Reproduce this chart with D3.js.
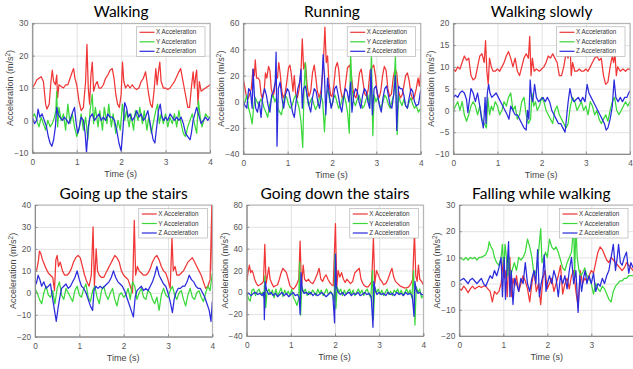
<!DOCTYPE html>
<html>
<head>
<meta charset="utf-8">
<script src="https://cdn.jsdelivr.net/npm/d3@7"></script>
<style>
  body { margin: 0; background: #fff; }
  svg { display: block; font-family: "Liberation Sans", Arial, sans-serif; }
</style>
</head>
<body>
<div id="chart"></div>
<script>
// ---- data: [time (s), acceleration (m/s^2)] ----
const seriesNames = ["X Acceleration", "Y Acceleration", "Z Acceleration"];
const seriesColors = ["#f03636", "#3ad83a", "#2b2bdd"];

const walkingX = [[0,10],[0.05,11],[0.1,12.5],[0.15,13],[0.2,13.5],[0.25,12],[0.3,5],[0.33,3.5],[0.38,5],[0.42,12],[0.45,15.5],[0.48,12],[0.52,11],[0.55,14],[0.57,7],[0.6,11],[0.65,10.5],[0.7,10],[0.75,11],[0.8,11],[0.85,13],[0.9,15],[0.93,16],[0.96,13],[1.0,11],[1.05,6],[1.1,3],[1.15,4],[1.2,12],[1.23,23.5],[1.26,10],[1.29,5],[1.32,14],[1.35,18],[1.38,9],[1.42,11],[1.46,12],[1.5,10],[1.55,10],[1.6,11],[1.65,13],[1.7,14],[1.75,15.5],[1.8,16],[1.84,13],[1.88,8],[1.92,5],[1.96,4],[2.0,8],[2.03,18],[2.06,12],[2.1,10],[2.15,11],[2.2,10],[2.25,11],[2.3,10],[2.35,9.5],[2.4,10],[2.45,12],[2.5,13],[2.55,15],[2.58,12],[2.62,8],[2.66,5],[2.7,4],[2.74,9],[2.78,16],[2.81,11],[2.84,15],[2.87,18],[2.9,12],[2.95,10],[3.0,10],[3.05,9.5],[3.1,10],[3.15,11],[3.2,12],[3.25,13.5],[3.3,15],[3.34,16],[3.38,13],[3.42,10],[3.46,7],[3.5,4],[3.54,4],[3.58,10],[3.62,15],[3.65,10],[3.68,14],[3.7,15.5],[3.73,5],[3.76,12],[3.8,9],[3.85,9.5],[3.9,10],[3.95,10.5],[4.0,11]];
const walkingY = [[0,1],[0.05,2],[0.1,0],[0.15,-2],[0.2,1],[0.25,-1],[0.3,-3],[0.35,0],[0.4,-2],[0.45,-1],[0.5,1],[0.53,3],[0.55,9],[0.57,-2],[0.6,4],[0.65,0],[0.7,2],[0.75,-3],[0.8,5],[0.85,-1],[0.9,2],[0.95,-2],[1.0,-5],[1.05,-3],[1.1,2],[1.15,-3],[1.2,1],[1.25,-6],[1.3,3],[1.35,8],[1.38,-1],[1.42,4],[1.48,-2],[1.52,3],[1.58,-3],[1.62,4],[1.68,-1],[1.72,5],[1.78,-2],[1.82,2],[1.88,-4],[1.93,0],[1.98,-3],[2.03,5],[2.08,0],[2.12,3],[2.18,-2],[2.22,2],[2.28,-3],[2.32,3],[2.38,0],[2.42,4],[2.48,-1],[2.52,3],[2.58,-3],[2.62,1],[2.68,-4],[2.72,-1],[2.78,3],[2.82,5],[2.86,-1],[2.9,2],[2.95,-1],[3.0,2],[3.05,-2],[3.1,1],[3.15,-1],[3.2,2],[3.25,-2],[3.3,3],[3.35,-1],[3.4,-4],[3.45,-5],[3.5,-2],[3.55,0],[3.6,2],[3.65,-1],[3.7,-4],[3.74,6],[3.78,1],[3.82,-2],[3.86,0],[3.9,2],[3.95,1],[4.0,1]];
const walkingZ = [[0,1],[0.05,-1],[0.1,0],[0.13,3.5],[0.17,1],[0.22,2],[0.27,0],[0.32,-2],[0.36,-5],[0.4,-7],[0.44,-8],[0.48,-6],[0.52,-2],[0.55,4],[0.58,2],[0.62,1],[0.68,0],[0.72,1],[0.78,0],[0.82,-1],[0.87,1],[0.92,3],[0.95,4],[0.98,0],[1.02,-4],[1.06,-2],[1.1,1],[1.15,0],[1.19,-4],[1.22,-10],[1.26,-2],[1.3,1],[1.35,2],[1.4,0],[1.45,1],[1.5,2],[1.55,0],[1.6,1],[1.65,0],[1.7,2],[1.75,1],[1.8,1],[1.85,0],[1.9,-3],[1.95,-7],[2.0,-9.5],[2.04,-3],[2.08,5.5],[2.12,4],[2.16,1],[2.2,2],[2.25,0],[2.3,1],[2.35,3],[2.4,1],[2.45,2],[2.5,0],[2.55,1],[2.6,3],[2.64,0],[2.68,-3],[2.72,-6],[2.76,-7],[2.8,-2],[2.84,3],[2.88,5],[2.92,1],[2.96,0],[3.0,1],[3.05,0],[3.1,2],[3.15,1],[3.2,0],[3.25,1],[3.3,0],[3.35,1],[3.4,-1],[3.45,-4],[3.5,-5],[3.55,-6],[3.58,-4],[3.62,0],[3.66,2],[3.7,4],[3.74,2],[3.8,-1],[3.85,0],[3.9,1],[3.95,0],[4.0,1]];

const runningX = [[0,17],[0.03,12],[0.07,4],[0.1,2],[0.14,5],[0.18,10],[0.22,25],[0.25,20],[0.27,32],[0.3,18],[0.34,18],[0.37,16],[0.4,6],[0.43,2],[0.47,8],[0.5,22],[0.53,18],[0.57,27],[0.6,24],[0.63,10],[0.67,4],[0.7,8],[0.74,20],[0.77,18],[0.8,30],[0.83,22],[0.87,8],[0.9,3],[0.94,6],[0.98,15],[1.02,26],[1.05,28],[1.08,22],[1.12,8],[1.15,20],[1.18,6],[1.22,3],[1.26,10],[1.3,22],[1.33,48],[1.36,25],[1.4,30],[1.44,12],[1.48,4],[1.52,8],[1.56,22],[1.6,28],[1.63,20],[1.67,8],[1.71,3],[1.75,8],[1.8,25],[1.84,57],[1.87,30],[1.9,35],[1.93,15],[1.97,5],[2.0,4],[2.04,12],[2.08,26],[2.12,30],[2.15,25],[2.19,10],[2.23,3],[2.27,5],[2.31,15],[2.35,26],[2.4,28],[2.43,22],[2.47,10],[2.5,5],[2.54,3],[2.58,10],[2.62,22],[2.66,25],[2.7,15],[2.74,6],[2.78,4],[2.82,10],[2.86,24],[2.9,26],[2.94,28],[2.98,20],[3.02,6],[3.06,3],[3.1,8],[3.14,20],[3.18,27],[3.22,24],[3.26,10],[3.3,4],[3.34,6],[3.38,18],[3.42,25],[3.46,22],[3.5,8],[3.54,3],[3.58,5],[3.62,12],[3.66,20],[3.7,22],[3.74,16],[3.78,6],[3.82,2],[3.86,4],[3.9,10],[3.94,18],[3.97,12],[4.0,22]];
const runningY = [[0,-2],[0.04,0],[0.08,5],[0.12,-5],[0.16,-10],[0.2,-17],[0.23,-5],[0.27,3],[0.31,0],[0.35,-3],[0.39,2],[0.43,0],[0.47,-5],[0.51,-8],[0.55,-12],[0.59,-3],[0.63,2],[0.67,5],[0.71,0],[0.75,3],[0.78,-5],[0.82,-8],[0.86,-10],[0.9,-2],[0.94,5],[0.98,3],[1.02,-2],[1.06,-5],[1.1,-3],[1.14,2],[1.18,5],[1.22,0],[1.26,-5],[1.3,-15],[1.34,-35],[1.37,10],[1.4,30],[1.43,5],[1.47,-3],[1.51,0],[1.55,3],[1.59,-2],[1.63,-6],[1.67,-3],[1.71,2],[1.75,5],[1.79,0],[1.83,-23],[1.87,5],[1.91,10],[1.95,0],[1.99,-3],[2.03,2],[2.07,5],[2.11,0],[2.15,-5],[2.19,-3],[2.23,2],[2.27,5],[2.31,0],[2.35,-8],[2.39,-24],[2.42,37],[2.45,10],[2.49,0],[2.53,-3],[2.57,2],[2.61,5],[2.65,0],[2.69,-5],[2.73,-3],[2.77,2],[2.81,5],[2.85,-5],[2.89,37],[2.92,-26],[2.95,5],[2.99,0],[3.03,3],[3.07,-2],[3.11,-5],[3.15,0],[3.19,5],[3.23,3],[3.27,-2],[3.31,-5],[3.35,0],[3.39,5],[3.43,35],[3.47,-25],[3.5,5],[3.54,0],[3.58,-3],[3.62,2],[3.66,-3],[3.7,-5],[3.74,0],[3.78,3],[3.82,-2],[3.86,-5],[3.9,-3],[3.95,-8],[4.0,-5]];
const runningZ = [[0,0],[0.04,-3],[0.08,-5],[0.12,10],[0.16,8],[0.2,-5],[0.22,25],[0.25,5],[0.28,-5],[0.32,-8],[0.36,0],[0.4,-12],[0.44,5],[0.48,10],[0.52,5],[0.56,-3],[0.6,-8],[0.64,5],[0.68,8],[0.72,15],[0.74,38],[0.76,-34],[0.79,10],[0.83,15],[0.87,3],[0.91,-5],[0.95,5],[0.99,10],[1.03,8],[1.07,0],[1.11,-8],[1.15,-12],[1.19,0],[1.23,10],[1.27,15],[1.3,25],[1.33,-5],[1.36,10],[1.4,12],[1.44,5],[1.48,-3],[1.52,-8],[1.56,3],[1.6,10],[1.64,8],[1.68,0],[1.72,-5],[1.76,5],[1.8,36],[1.83,20],[1.86,-10],[1.9,18],[1.94,5],[1.98,-5],[2.02,0],[2.06,10],[2.1,12],[2.14,5],[2.18,-3],[2.22,-8],[2.26,3],[2.3,10],[2.34,8],[2.38,0],[2.42,15],[2.45,-8],[2.49,5],[2.53,10],[2.57,8],[2.61,0],[2.65,-5],[2.69,5],[2.73,10],[2.77,8],[2.81,0],[2.85,-5],[2.88,25],[2.91,-10],[2.95,10],[2.99,12],[3.03,5],[3.07,-3],[3.11,-8],[3.15,3],[3.19,10],[3.23,12],[3.27,5],[3.31,-3],[3.35,-5],[3.39,5],[3.43,20],[3.46,-22],[3.5,12],[3.54,10],[3.58,10],[3.62,5],[3.66,-3],[3.7,-5],[3.74,3],[3.78,10],[3.82,8],[3.86,0],[3.9,-3],[3.95,-2],[4.0,9]];

const slowX = [[0,9.5],[0.05,9],[0.1,10],[0.15,9.5],[0.2,11],[0.25,12.5],[0.3,11.5],[0.35,12],[0.4,8],[0.45,7],[0.5,7.5],[0.55,10],[0.6,12.5],[0.65,13],[0.7,11],[0.73,16],[0.76,9],[0.79,6],[0.82,12],[0.86,10],[0.9,9],[0.95,9],[1.0,9.5],[1.05,9],[1.1,10],[1.15,11],[1.2,12.5],[1.25,13.5],[1.3,12],[1.35,10],[1.4,12],[1.45,9],[1.5,8],[1.55,10],[1.6,12],[1.65,13],[1.7,12],[1.73,17],[1.76,8],[1.79,12],[1.83,9],[1.88,9.5],[1.95,9],[2.0,9.5],[2.05,10],[2.1,11],[2.15,12.5],[2.2,12],[2.25,13],[2.3,12],[2.35,11],[2.4,8],[2.45,8],[2.5,10],[2.55,13],[2.6,12],[2.64,16],[2.67,8],[2.7,11],[2.75,9],[2.8,9],[2.85,9.5],[2.9,9],[2.95,9],[3.0,9.5],[3.05,9],[3.1,10],[3.15,11],[3.2,12],[3.25,12.5],[3.3,11.5],[3.35,12],[3.4,8],[3.45,6],[3.5,6.5],[3.55,10],[3.6,12.5],[3.63,11],[3.66,13],[3.69,8],[3.72,10],[3.78,9],[3.84,9.5],[3.9,9],[3.95,9.5],[4.0,9.5]];
const slowY = [[0,0],[0.05,1],[0.1,2],[0.15,0],[0.2,2],[0.25,-1],[0.3,-2.5],[0.35,-1],[0.4,1],[0.45,2],[0.5,1],[0.55,-1],[0.6,1],[0.65,-2],[0.7,-3],[0.75,-4],[0.78,3],[0.82,-1],[0.86,1],[0.9,0],[0.95,2],[1.0,1],[1.05,-1],[1.1,0],[1.15,2],[1.2,1],[1.25,3],[1.3,4],[1.35,0],[1.4,1],[1.45,-2],[1.5,-1],[1.55,2],[1.6,3],[1.65,-1],[1.7,-3],[1.75,-2],[1.78,4],[1.82,1],[1.86,2],[1.9,0],[1.95,1],[2.0,3],[2.05,2],[2.1,0],[2.15,-1],[2.2,-2],[2.25,-3],[2.3,0],[2.35,1],[2.4,-1],[2.45,-2],[2.5,-3],[2.55,-4],[2.6,-3],[2.65,1],[2.7,3],[2.75,2],[2.8,0],[2.85,1],[2.9,2],[2.95,0],[3.0,1],[3.05,-1],[3.1,2],[3.15,1],[3.2,-1],[3.25,0],[3.3,-2],[3.35,-3],[3.4,-2],[3.45,-1],[3.5,-2.5],[3.55,0],[3.6,2],[3.65,3],[3.7,0],[3.75,-1],[3.8,0],[3.85,1],[3.9,2],[3.95,1],[4.0,2]];
const slowZ = [[0,3],[0.05,3.5],[0.1,3],[0.15,4],[0.2,4.5],[0.25,4],[0.3,2.5],[0.33,-0.5],[0.36,2],[0.4,5],[0.45,4],[0.5,2],[0.55,4],[0.6,1],[0.64,-2],[0.68,-4],[0.7,-1],[0.72,3],[0.74,-3],[0.77,4],[0.8,6],[0.83,4],[0.87,3],[0.92,3.5],[0.97,4],[1.02,3],[1.07,2],[1.12,1],[1.17,0],[1.22,-1],[1.26,-2],[1.3,1],[1.35,0],[1.4,-1],[1.45,-1],[1.5,-2],[1.55,-3],[1.6,-4],[1.65,-4.5],[1.68,0],[1.71,-2],[1.74,7],[1.77,3],[1.8,2],[1.84,6],[1.88,3],[1.93,2],[1.98,2.5],[2.03,3],[2.08,2],[2.13,3],[2.18,2],[2.23,0],[2.28,-1],[2.33,-2],[2.38,-3],[2.43,-3],[2.48,-4],[2.53,-5],[2.57,-1],[2.6,2],[2.64,5],[2.68,3],[2.73,2],[2.78,2.5],[2.83,3],[2.88,2],[2.93,3],[2.98,2],[3.03,6],[3.07,4],[3.12,3],[3.17,2],[3.22,1],[3.27,0],[3.32,-1],[3.37,-2],[3.42,-3],[3.46,-4.5],[3.5,-4],[3.55,-2],[3.6,1],[3.64,7],[3.68,3],[3.73,2],[3.78,3],[3.83,2],[3.88,3],[3.93,3],[3.97,4],[4.0,4.5]];

const upX = [[0,10],[0.04,10.5],[0.08,15],[0.1,19],[0.13,18],[0.17,15],[0.21,13],[0.25,11],[0.3,9],[0.35,8],[0.4,7],[0.44,1],[0.47,15],[0.5,17],[0.53,12],[0.57,14],[0.62,10],[0.67,8],[0.72,8],[0.77,9],[0.82,11],[0.87,14],[0.92,16],[0.97,17],[1.02,16],[1.07,12],[1.12,8],[1.17,5],[1.22,3],[1.27,8],[1.31,30],[1.34,3],[1.38,20],[1.41,10],[1.45,8],[1.5,7],[1.55,7],[1.6,9],[1.65,11],[1.7,13],[1.75,15],[1.8,17],[1.85,16],[1.9,14],[1.95,10],[2.0,8],[2.05,7],[2.1,6],[2.15,3],[2.2,0],[2.24,33],[2.27,8],[2.31,12],[2.35,10],[2.4,9],[2.45,8],[2.5,8],[2.55,9],[2.6,11],[2.65,14],[2.7,16],[2.75,17],[2.8,15],[2.85,12],[2.9,10],[2.95,9],[3.0,6],[3.05,2],[3.09,25],[3.12,10],[3.16,12],[3.2,8],[3.25,8],[3.3,9],[3.35,10],[3.4,12],[3.45,14],[3.5,15],[3.55,16],[3.6,14],[3.65,12],[3.7,10],[3.75,8],[3.8,5],[3.85,2],[3.9,3],[3.95,6],[3.99,40],[4.0,10]];
const upY = [[0,2],[0.05,0],[0.1,-3],[0.15,-5],[0.2,0],[0.25,3],[0.3,-1],[0.35,-2],[0.4,1],[0.45,-5],[0.5,2],[0.55,5],[0.6,-1],[0.65,-3],[0.7,2],[0.75,0],[0.8,-2],[0.85,-4],[0.9,1],[0.95,3],[1.0,-1],[1.05,-2],[1.1,2],[1.15,4],[1.2,-2],[1.25,-4],[1.3,1],[1.35,3],[1.4,-2],[1.45,-5],[1.5,1],[1.55,3],[1.6,-1],[1.65,-3],[1.7,0],[1.75,2],[1.8,-3],[1.85,-6],[1.9,-1],[1.95,0],[2.0,-2],[2.05,-1],[2.1,2],[2.15,-3],[2.2,5],[2.25,3],[2.3,-3],[2.35,0],[2.4,2],[2.45,-2],[2.5,-3],[2.55,1],[2.6,0],[2.65,-3],[2.7,-5],[2.75,-2],[2.8,-8],[2.85,-1],[2.9,2],[2.95,-1],[3.0,-2],[3.05,1],[3.1,3],[3.15,-1],[3.2,-3],[3.25,0],[3.3,1],[3.35,-3],[3.4,-6],[3.45,-1],[3.5,2],[3.55,-2],[3.6,-3],[3.65,0],[3.7,1],[3.75,-2],[3.8,-4],[3.85,0],[3.9,3],[3.95,1],[4.0,9]];
const upZ = [[0,3],[0.04,5],[0.07,8],[0.11,6],[0.15,3],[0.2,5],[0.25,2],[0.3,3],[0.35,4],[0.4,-3],[0.44,-8],[0.48,-13],[0.52,-7],[0.56,-2],[0.6,2],[0.65,3],[0.7,4],[0.75,2],[0.8,3],[0.85,5],[0.9,7],[0.95,10],[1.0,6],[1.05,3],[1.1,2],[1.15,0],[1.2,-3],[1.25,-6],[1.3,-8],[1.33,1],[1.37,3],[1.42,2],[1.47,3],[1.52,2],[1.57,3],[1.62,4],[1.67,5],[1.72,7],[1.77,10],[1.82,7],[1.87,5],[1.92,4],[1.97,3],[2.02,1],[2.07,-2],[2.12,-5],[2.17,-8],[2.22,-11],[2.26,-2],[2.3,1],[2.35,2],[2.4,3],[2.45,1],[2.5,2],[2.55,1],[2.6,3],[2.65,5],[2.7,8],[2.75,12],[2.8,8],[2.85,6],[2.9,4],[2.95,3],[3.0,0],[3.05,-4],[3.1,-9],[3.14,-3],[3.18,0],[3.23,2],[3.28,2],[3.33,3],[3.38,3],[3.43,5],[3.48,8],[3.53,6],[3.58,5],[3.63,3],[3.68,2],[3.73,2],[3.78,0],[3.83,-2],[3.88,-5],[3.93,-8],[3.97,-13],[4.0,-4]];

const downX = [[0,10],[0.03,18],[0.06,25],[0.09,18],[0.12,20],[0.15,17],[0.18,12],[0.22,8],[0.26,6],[0.3,7],[0.34,8],[0.38,10],[0.41,44],[0.44,8],[0.47,15],[0.5,23],[0.53,12],[0.57,8],[0.61,5],[0.65,6],[0.7,7],[0.74,12],[0.78,18],[0.82,22],[0.86,20],[0.9,18],[0.94,12],[0.98,6],[1.02,4],[1.06,3],[1.1,5],[1.14,8],[1.18,12],[1.21,47],[1.24,5],[1.28,25],[1.31,12],[1.35,10],[1.4,12],[1.45,9],[1.5,8],[1.55,12],[1.6,17],[1.64,22],[1.68,12],[1.72,10],[1.76,14],[1.8,16],[1.84,12],[1.88,9],[1.92,7],[1.96,6],[2.01,63],[2.04,5],[2.07,20],[2.11,14],[2.15,18],[2.19,12],[2.23,9],[2.27,12],[2.31,10],[2.35,8],[2.4,10],[2.45,18],[2.5,20],[2.55,22],[2.59,12],[2.63,8],[2.67,6],[2.71,5],[2.75,5],[2.79,7],[2.83,10],[2.87,50],[2.9,8],[2.94,20],[2.98,16],[3.02,12],[3.06,10],[3.1,7],[3.15,8],[3.2,12],[3.25,18],[3.29,22],[3.33,14],[3.37,10],[3.42,8],[3.47,6],[3.52,5],[3.57,4],[3.62,4],[3.67,5],[3.72,8],[3.76,12],[3.8,55],[3.83,15],[3.86,10],[3.89,25],[3.92,12],[3.96,10],[4.0,7]];
const downY = [[0,0],[0.04,-6],[0.08,-8],[0.12,2],[0.16,3],[0.2,-3],[0.24,1],[0.28,3],[0.32,-2],[0.36,0],[0.39,-5],[0.41,15],[0.43,-14],[0.46,0],[0.5,3],[0.54,-2],[0.58,2],[0.62,-5],[0.66,3],[0.7,-3],[0.74,0],[0.78,4],[0.82,-4],[0.86,2],[0.9,-2],[0.94,1],[0.98,-3],[1.02,3],[1.06,-5],[1.1,-8],[1.14,-12],[1.18,-5],[1.2,28],[1.22,-21],[1.25,5],[1.29,0],[1.33,3],[1.37,-3],[1.41,1],[1.45,-2],[1.49,2],[1.53,0],[1.57,-3],[1.61,3],[1.65,-1],[1.69,2],[1.73,-3],[1.77,0],[1.81,3],[1.85,-2],[1.9,1],[1.95,-3],[1.98,-8],[2.0,35],[2.02,-15],[2.05,5],[2.09,0],[2.13,3],[2.17,-3],[2.21,2],[2.25,-2],[2.29,1],[2.33,3],[2.37,-2],[2.41,2],[2.45,-3],[2.49,0],[2.53,3],[2.57,-1],[2.61,2],[2.65,-3],[2.69,1],[2.73,3],[2.77,-2],[2.81,-5],[2.85,20],[2.87,-25],[2.9,5],[2.94,0],[2.98,3],[3.02,-2],[3.06,2],[3.1,-3],[3.14,0],[3.18,3],[3.22,-2],[3.26,1],[3.3,-3],[3.34,2],[3.38,0],[3.42,3],[3.46,-2],[3.5,2],[3.54,-3],[3.58,0],[3.62,3],[3.66,-1],[3.7,2],[3.74,-5],[3.78,20],[3.81,-30],[3.84,5],[3.88,0],[3.92,3],[3.96,-5],[4.0,-3]];
const downZ = [[0,-2],[0.05,-1],[0.1,-3],[0.15,-1],[0.2,0],[0.25,-2],[0.3,-1],[0.35,-3],[0.39,0],[0.4,-25],[0.42,10],[0.45,2],[0.5,-2],[0.55,0],[0.6,-3],[0.65,-1],[0.7,-4],[0.75,-2],[0.8,0],[0.85,-3],[0.9,-1],[0.95,-4],[1.0,-2],[1.05,0],[1.1,-3],[1.15,-2],[1.19,-5],[1.21,-20],[1.23,18],[1.26,2],[1.3,-1],[1.35,0],[1.4,-2],[1.45,0],[1.5,-3],[1.55,-1],[1.6,-3],[1.65,-2],[1.7,0],[1.75,-2],[1.8,-4],[1.85,-2],[1.9,0],[1.95,-2],[1.99,-28],[2.01,35],[2.03,5],[2.07,0],[2.12,-2],[2.17,0],[2.22,-3],[2.27,-1],[2.32,0],[2.37,-3],[2.42,-1],[2.47,-2],[2.52,0],[2.57,-3],[2.62,-2],[2.67,0],[2.72,-2],[2.77,-1],[2.82,-4],[2.86,-32],[2.88,10],[2.91,2],[2.95,-2],[3.0,0],[3.05,-2],[3.1,-1],[3.15,-3],[3.2,0],[3.25,-2],[3.3,-1],[3.35,-3],[3.4,0],[3.45,-2],[3.5,-1],[3.55,-3],[3.6,0],[3.65,-2],[3.7,-1],[3.75,-3],[3.79,-22],[3.81,10],[3.84,2],[3.88,-1],[3.92,0],[3.96,-2],[4.0,-2]];

const fallX = [[0,-2],[0.05,-2.5],[0.1,-1],[0.15,-2],[0.2,-3.5],[0.25,-2],[0.3,-1],[0.35,-2],[0.4,-1.5],[0.45,-1],[0.5,-1.5],[0.55,-1],[0.6,-1],[0.65,-2],[0.7,-3],[0.75,-7],[0.8,-3],[0.85,-4],[0.9,-3],[0.95,0],[1.0,9],[1.03,2],[1.06,5],[1.09,-5],[1.12,8],[1.15,10],[1.18,-5],[1.22,2],[1.26,-1],[1.3,3],[1.35,-3],[1.4,0],[1.45,3],[1.5,1],[1.55,-2],[1.6,-7],[1.65,0],[1.7,5],[1.75,-3],[1.8,0],[1.85,-8],[1.9,2],[1.95,5],[2.0,-2],[2.05,0],[2.1,2],[2.15,-3],[2.2,0],[2.25,3],[2.3,7],[2.35,-4],[2.4,0],[2.45,2],[2.5,-2],[2.55,3],[2.6,5],[2.65,-3],[2.7,-9],[2.75,5],[2.8,0],[2.85,2],[2.9,1],[2.95,3],[3.0,5],[3.05,4],[3.1,8],[3.15,12],[3.2,14],[3.25,13],[3.3,11],[3.35,9],[3.4,8],[3.45,10],[3.5,9],[3.55,8],[3.6,7],[3.65,6],[3.7,5],[3.75,6],[3.8,8],[3.85,7],[3.9,6],[3.95,5],[4.0,6]];
const fallY = [[0,10],[0.05,9.5],[0.1,9],[0.15,10],[0.2,9],[0.25,10],[0.3,9.5],[0.35,10],[0.4,9],[0.45,10],[0.5,10],[0.55,10.5],[0.6,11],[0.65,13],[0.68,16],[0.72,14],[0.76,13],[0.8,10],[0.85,8],[0.9,7],[0.95,10],[0.98,15],[1.01,5],[1.04,15],[1.07,10],[1.1,3],[1.13,10],[1.16,3],[1.2,5],[1.25,8],[1.3,5],[1.35,10],[1.4,9],[1.45,10],[1.5,12],[1.55,17],[1.6,14],[1.65,10],[1.7,3],[1.75,5],[1.8,12],[1.85,21],[1.88,8],[1.92,10],[1.96,12],[2.0,10],[2.05,17],[2.1,14],[2.15,13],[2.2,14],[2.25,12],[2.3,9],[2.35,6],[2.4,5],[2.45,8],[2.5,10],[2.55,12],[2.6,22],[2.62,3],[2.65,22],[2.68,10],[2.72,5],[2.76,3],[2.8,4],[2.85,6],[2.9,3],[2.95,2],[3.0,0],[3.05,-4],[3.1,0],[3.15,-2],[3.2,-3],[3.25,-1],[3.3,-2],[3.35,-4],[3.4,-6],[3.45,-7],[3.5,-3],[3.55,-1],[3.6,0],[3.65,1],[3.7,1],[3.75,2],[3.8,2],[3.85,3],[3.9,3],[3.95,3],[4.0,3]];
const fallZ = [[0,1],[0.05,1.5],[0.1,2],[0.15,1],[0.2,0],[0.25,1.5],[0.3,2],[0.35,1],[0.4,0],[0.45,1],[0.5,2],[0.55,0],[0.6,-1],[0.65,1],[0.7,3],[0.75,2],[0.8,5],[0.85,3],[0.9,6],[0.95,10],[0.98,-5],[1.02,10],[1.05,-6],[1.08,5],[1.12,16],[1.15,-5],[1.18,5],[1.22,-8],[1.26,2],[1.3,0],[1.35,-3],[1.4,2],[1.45,0],[1.5,8],[1.55,0],[1.6,-3],[1.65,2],[1.7,5],[1.74,0],[1.78,13],[1.82,-5],[1.86,0],[1.9,3],[1.93,11],[1.97,-3],[2.0,0],[2.05,3],[2.1,0],[2.15,5],[2.2,2],[2.25,-5],[2.3,3],[2.35,0],[2.4,3],[2.45,-2],[2.5,5],[2.55,10],[2.6,0],[2.65,5],[2.7,-11],[2.74,3],[2.78,-3],[2.82,2],[2.86,5],[2.9,0],[2.95,3],[3.0,0],[3.05,4],[3.1,-3],[3.15,0],[3.2,-1],[3.25,2],[3.3,0],[3.35,3],[3.4,5],[3.45,10],[3.5,15],[3.55,5],[3.59,10],[3.62,15],[3.66,8],[3.7,7],[3.75,10],[3.8,12],[3.85,4],[3.9,8],[3.95,6],[4.0,7]];

// tick values per panel
const ticksWalking = [-10, 0, 10, 20, 30];
const ticksRunning = [-40, -20, 0, 20, 40, 60];
const ticksSlow = [-10, -5, 0, 5, 10, 15, 20];
const ticksUp = [-20, -10, 0, 10, 20, 30, 40];
const ticksDown = [-40, -20, 0, 20, 40, 60, 80];
const ticksFall = [-20, -10, 0, 10, 20, 30];
const timeTicks = [0, 1, 2, 3, 4];

// ---- layout ----
const width = 633, height = 369;

const panels = [
  { title: "Walking", left: 32.3, top: 23.3, w: 177.7, h: 129.4, ticks: ticksWalking, series: [walkingX, walkingY, walkingZ], xt: timeTicks },
  { title: "Running", left: 243.3, top: 23.3, w: 177.4, h: 130.7, ticks: ticksRunning, series: [runningX, runningY, runningZ], xt: timeTicks },
  { title: "Walking slowly", left: 453.3, top: 23.3, w: 176.7, h: 130.7, ticks: ticksSlow, series: [slowX, slowY, slowZ], xt: timeTicks },
  { title: "Going up the stairs", left: 35, top: 205, w: 177.3, h: 131.7, ticks: ticksUp, series: [upX, upY, upZ], xt: timeTicks },
  { title: "Going down the stairs", left: 246.7, top: 205, w: 176.6, h: 131, ticks: ticksDown, series: [downX, downY, downZ], xt: timeTicks },
  { title: "Falling while walking", left: 459.3, top: 205, w: 176, h: 131, ticks: ticksFall, series: [fallX, fallY, fallZ], xt: [0, 1, 2, 3] }
];

const svg = d3.select("#chart").append("svg")
  .attr("width", width)
  .attr("height", height);

panels.forEach((p, i) => {
  const g = svg.append("g");
  const x = d3.scaleLinear().domain([0, 4]).range([p.left, p.left + p.w]);
  const y = d3.scaleLinear().domain(d3.extent(p.ticks)).range([p.top + p.h, p.top]);

  // grid
  g.append("g")
    .attr("transform", `translate(0,${p.top + p.h})`)
    .call(d3.axisBottom(x).tickValues(p.xt).tickSize(-p.h).tickFormat(""))
    .call(a => a.select(".domain").remove())
    .call(a => a.selectAll("line").attr("stroke", "#e2e2e2"));
  g.append("g")
    .attr("transform", `translate(${p.left},0)`)
    .call(d3.axisLeft(y).tickValues(p.ticks).tickSize(-p.w).tickFormat(""))
    .call(a => a.select(".domain").remove())
    .call(a => a.selectAll("line").attr("stroke", "#e2e2e2"));

  // clip to plot area
  const clipId = "clip" + i;
  g.append("clipPath").attr("id", clipId)
    .append("rect")
    .attr("x", p.left).attr("y", p.top)
    .attr("width", p.w).attr("height", p.h);

  const line = d3.line()
    .x(d => x(d[0]))
    .y(d => y(d[1]));

  g.append("g").attr("clip-path", `url(#${clipId})`)
    .selectAll("path")
    .data(p.series)
    .join("path")
    .attr("d", line)
    .attr("fill", "none")
    .attr("stroke", (d, k) => seriesColors[k])
    .attr("stroke-width", 1.25)
    .attr("stroke-linejoin", "round");

  // frame
  g.append("rect")
    .attr("x", p.left).attr("y", p.top)
    .attr("width", p.w).attr("height", p.h)
    .attr("fill", "none")
    .attr("stroke", "#a0a0a0")
    .attr("stroke-width", 0.8);

  // axes
  const xAxis = g.append("g")
    .attr("transform", `translate(0,${p.top + p.h})`)
    .call(d3.axisBottom(x).tickValues(p.xt).tickSize(-2.5).tickPadding(6).tickFormat(d3.format("d")));
  const yAxis = g.append("g")
    .attr("transform", `translate(${p.left},0)`)
    .call(d3.axisLeft(y).tickValues(p.ticks).tickSize(-2.5).tickPadding(4).tickFormat(d3.format("d")));
  [xAxis, yAxis].forEach(a => {
    a.select(".domain").attr("stroke", "#8c8c8c");
    a.selectAll(".tick line").attr("stroke", "#8c8c8c");
    a.selectAll("text")
      .attr("fill", "#555")
      .style("font-size", "8.3px")
      .style("font-family", "'Liberation Sans', Arial, sans-serif");
  });

  // axis labels
  g.append("text")
    .attr("x", p.left + p.w / 2 - 0.5)
    .attr("y", p.top + p.h + 24)
    .attr("text-anchor", "middle")
    .attr("fill", "#444")
    .style("font-size", "9px")
    .text("Time (s)");

  const yl = g.append("text")
    .attr("transform", `translate(${p.left - 19},${p.top + p.h / 2}) rotate(-90)`)
    .attr("text-anchor", "middle")
    .attr("fill", "#444")
    .style("font-size", "9px");
  yl.append("tspan").text("Acceleration (m/s");
  yl.append("tspan").attr("dy", -3).style("font-size", "6.5px").text("2");
  yl.append("tspan").attr("dy", 3).text(")");

  // title
  g.append("text")
    .attr("x", Math.min(p.left + p.w / 2, 628) + (i === 5 ? -6 : 0))
    .attr("y", p.top - 6.5)
    .attr("text-anchor", "middle")
    .attr("fill", "#000")
    .style("font-family", "Lato, 'Open Sans', sans-serif")
    .style("font-size", "15.5px")
    .text(p.title);

  // legend
  const lx = Math.min(p.left + p.w, 633) - 73.5, ly = p.top + 3.5;
  const lg = g.append("g").attr("transform", `translate(${lx},${ly})`);
  lg.append("rect")
    .attr("width", 68.5).attr("height", 29.5)
    .attr("fill", "#fff")
    .attr("stroke", "#a8a8a8")
    .attr("stroke-width", 0.6);
  seriesNames.forEach((name, k) => {
    const row = 5.5 + k * 9.5;
    lg.append("line")
      .attr("x1", 3).attr("x2", 18)
      .attr("y1", row).attr("y2", row)
      .attr("stroke", seriesColors[k])
      .attr("stroke-width", 1.2);
    lg.append("text")
      .attr("x", 19.5).attr("y", row + 2.2)
      .attr("fill", "#333")
      .style("font-size", "6.3px")
      .text(name);
  });
});
</script>
</body>
</html>
